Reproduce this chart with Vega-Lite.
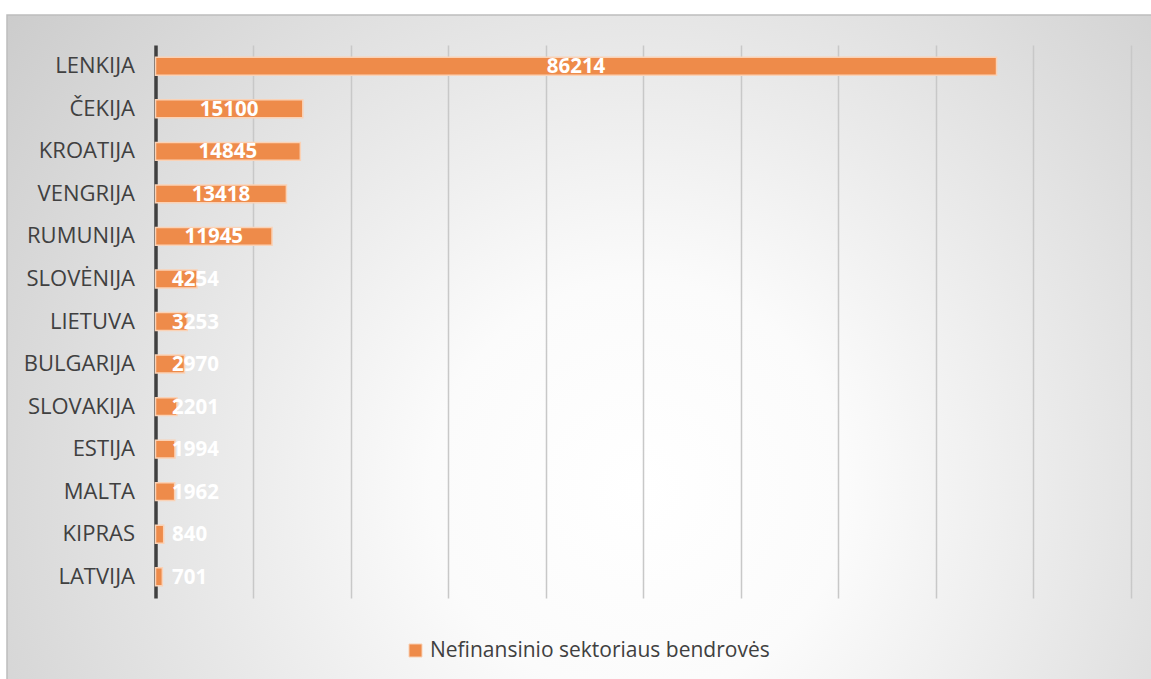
{
  "$schema": "https://vega.github.io/schema/vega-lite/v6.json",
  "width": 1150,
  "height": 670,
  "autosize": {"type": "none"},
  "padding": {"left": 7, "top": 15, "right": 0, "bottom": 0},
  "background": "#ffffff",
  "config": {
    "view": {
      "fill": {
        "gradient": "radial",
        "x1": 0.55, "y1": 0.62, "r1": 0,
        "x2": 0.55, "y2": 0.62, "r2": 0.72,
        "stops": [
          {"offset": 0, "color": "#ffffff"},
          {"offset": 0.25, "color": "#fbfbfb"},
          {"offset": 1, "color": "#c9c9c9"}
        ]
      },
      "stroke": "#bdbdbd",
      "strokeWidth": 1.5
    },
    "font": "Open Sans"
  },
  "data": {
    "values": [
      {"country": "LENKIJA", "value": 86214, "series": "Nefinansinio sektoriaus bendrovės"},
      {"country": "ČEKIJA", "value": 15100, "series": "Nefinansinio sektoriaus bendrovės"},
      {"country": "KROATIJA", "value": 14845, "series": "Nefinansinio sektoriaus bendrovės"},
      {"country": "VENGRIJA", "value": 13418, "series": "Nefinansinio sektoriaus bendrovės"},
      {"country": "RUMUNIJA", "value": 11945, "series": "Nefinansinio sektoriaus bendrovės"},
      {"country": "SLOVĖNIJA", "value": 4254, "series": "Nefinansinio sektoriaus bendrovės"},
      {"country": "LIETUVA", "value": 3253, "series": "Nefinansinio sektoriaus bendrovės"},
      {"country": "BULGARIJA", "value": 2970, "series": "Nefinansinio sektoriaus bendrovės"},
      {"country": "SLOVAKIJA", "value": 2201, "series": "Nefinansinio sektoriaus bendrovės"},
      {"country": "ESTIJA", "value": 1994, "series": "Nefinansinio sektoriaus bendrovės"},
      {"country": "MALTA", "value": 1962, "series": "Nefinansinio sektoriaus bendrovės"},
      {"country": "KIPRAS", "value": 840, "series": "Nefinansinio sektoriaus bendrovės"},
      {"country": "LATVIJA", "value": 701, "series": "Nefinansinio sektoriaus bendrovės"}
    ]
  },
  "encoding": {
    "y": {
      "field": "country",
      "type": "nominal",
      "sort": null,
      "scale": {"range": [30, 583], "paddingInner": 0.58, "paddingOuter": 0.29},
      "axis": {
        "title": null,
        "orient": "left",
        "offset": -148.5,
        "domainColor": "#404040",
        "domainWidth": 3.5,
        "ticks": false,
        "labelPadding": 21,
        "labelFont": "Open Sans",
        "labelFontSize": 22,
        "labelColor": "#404040",
        "grid": false
      }
    }
  },
  "layer": [
    {
      "mark": {"type": "bar", "stroke": "#fad2b6", "strokeWidth": 1.5},
      "encoding": {
        "x": {
          "field": "value",
          "type": "quantitative",
          "scale": {"domain": [-15223, 102665], "nice": false, "zero": false},
          "axis": {
            "orient": "top",
            "values": [10000, 20000, 30000, 40000, 50000, 60000, 70000, 80000, 90000, 100000],
            "grid": true,
            "gridColor": "#c8c8c8",
            "gridWidth": 1.5,
            "labels": false,
            "ticks": false,
            "domain": false,
            "title": null
          }
        },
        "color": {
          "field": "series",
          "type": "nominal",
          "scale": {"range": ["#ee8b4a"]},
          "legend": {
            "orient": "none",
            "legendX": 398,
            "legendY": 625,
            "title": null,
            "symbolType": "square",
            "symbolSize": 170,
            "symbolStrokeColor": "#fad2b6",
            "symbolStrokeWidth": 1,
            "labelFont": "Open Sans",
            "labelFontSize": 21,
            "labelColor": "#404040",
            "labelOffset": 4,
            "padding": 0,
            "labelLimit": 600
          }
        }
      }
    },
    {
      "transform": [
        {"filter": "datum.value > 10000"},
        {"calculate": "datum.value / 2", "as": "mid"}
      ],
      "mark": {"type": "text", "align": "center", "baseline": "middle", "fontWeight": "bold", "fontSize": 20.5, "color": "#ffffff", "font": "Open Sans", "dy": 1},
      "encoding": {
        "x": {"field": "mid", "type": "quantitative"},
        "text": {"field": "value", "type": "quantitative", "format": "d"}
      }
    },
    {
      "transform": [
        {"filter": "datum.value <= 10000"}
      ],
      "mark": {"type": "text", "align": "left", "baseline": "middle", "fontWeight": "bold", "fontSize": 20.5, "color": "#ffffff", "font": "Open Sans", "dx": 16.5, "dy": 1},
      "encoding": {
        "x": {"datum": 0, "type": "quantitative"},
        "text": {"field": "value", "type": "quantitative", "format": "d"}
      }
    }
  ]
}
